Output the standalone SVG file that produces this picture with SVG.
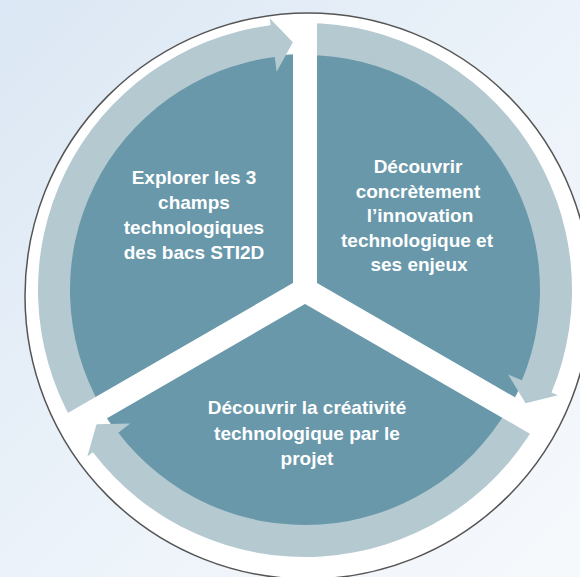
<svg xmlns="http://www.w3.org/2000/svg" width="580" height="577" viewBox="0 0 580 577">
  <defs>
    <linearGradient id="bg" x1="0" y1="0" x2="1" y2="1">
      <stop offset="0" stop-color="#dbe7f4"/>
      <stop offset="0.5" stop-color="#ebf2f9"/>
      <stop offset="1" stop-color="#f6f9fc"/>
    </linearGradient>
  </defs>
  <style>
    .seg { fill: #6898aa; }
    .arrow { fill: #b5c9d1; }
    .sep { stroke: #ffffff; stroke-width: 24; stroke-linecap: butt; fill: none; }
    .lbl { fill: #ffffff; font-family: "Liberation Sans", Arial, sans-serif; font-weight: bold; font-size: 19px; text-anchor: middle; }
  </style>
  <rect x="0" y="0" width="580" height="577" fill="url(#bg)"/>
  <circle cx="308" cy="296" r="283" fill="#ffffff" stroke="#555555" stroke-width="1.5"/>

  <g id="node-explorer">
    <path class="seg" d="M305,290 L100.62,408 A236,236 0 0,1 305,54 Z"/>
    <text class="lbl" x="194" y="184">Explorer les 3</text>
    <text class="lbl" x="194" y="209">champs</text>
    <text class="lbl" x="194" y="234">technologiques</text>
    <text class="lbl" x="194" y="259">des bacs STI2D</text>
  </g>
  <g id="node-innovation">
    <path class="seg" d="M305,290 L305,54 A236,236 0 0,1 509.38,408 Z"/>
    <text class="lbl" x="418" y="173">Découvrir</text>
    <text class="lbl" x="418" y="198">concrètement</text>
    <text class="lbl" x="420" y="222">l’innovation</text>
    <text class="lbl" x="417" y="247">technologique et</text>
    <text class="lbl" x="419" y="271">ses enjeux</text>
  </g>
  <g id="node-creativite">
    <path class="seg" d="M305,290 L509.38,408 A236,236 0 0,1 100.62,408 Z"/>
    <text class="lbl" x="307" y="414">Découvrir la créativité</text>
    <text class="lbl" x="307" y="440">technologique par le</text>
    <text class="lbl" x="307" y="465">projet</text>
  </g>

  <g id="connectors">
    <path class="arrow" d="M73.77,423.5 A267,267 0 0,1 270.61,25.22 L269.71,18.28 L292.89,42.29 L276.66,71.83 L274.73,56.96 A235,235 0 0,0 101.48,407.5 Z"/>
    <path class="arrow" d="M305,23 A267,267 0 0,1 551.50,392.61 L557.96,395.30 L525.58,403.35 L508.11,374.55 L521.95,380.31 A235,235 0 0,0 305,55 Z"/>
    <path class="arrow" d="M536.23,423.5 A267,267 0 0,1 92.89,452.17 L87.33,456.42 L96.54,424.34 L130.23,423.62 L118.31,432.73 A235,235 0 0,0 508.52,407.5 Z"/>
  </g>

  <g id="separators">
    <line class="sep" x1="305" y1="290" x2="305" y2="16"/>
    <line class="sep" x1="305" y1="290" x2="67.71" y2="427"/>
    <line class="sep" x1="305" y1="290" x2="542.29" y2="427"/>
    <circle cx="305" cy="290" r="12" fill="#ffffff"/>
  </g>
</svg>
